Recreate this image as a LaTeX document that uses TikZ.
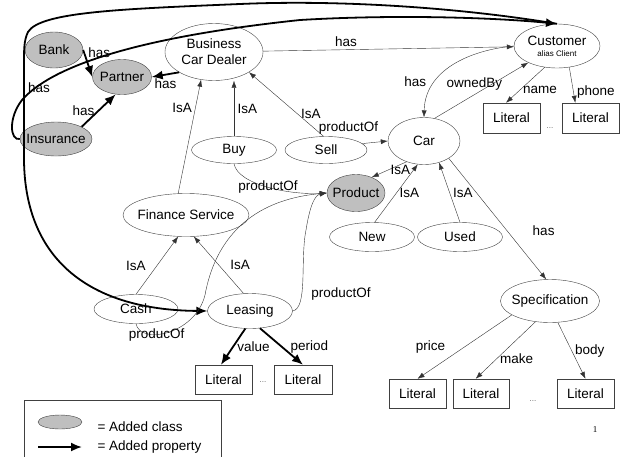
\documentclass[tikz,border=0pt]{standalone}
\usepackage{fontspec}
\setmainfont{Liberation Sans}
\newfontfamily\pagefont{Liberation Serif}
\usepackage{tikz}
\usetikzlibrary{positioning, arrows.meta, shapes.geometric}

\begin{document}
\begin{tikzpicture}[x=1pt, y=-1pt,
    every node/.style={font=\fontsize{13.5}{15}\selectfont},
    cls/.style={ellipse, draw=black!75, inner xsep=-6pt, inner ysep=-4pt},
    added/.style={cls, fill=black!25},
    lit/.style={rectangle, draw=black!75, minimum height=29pt, inner sep=0pt},
    link/.style={draw=black!80, -{Latex[length=7pt, width=5pt]}},
    addlink/.style={draw=black, line width=1.8pt, -{Latex[length=11pt, width=9pt]}},
    dots/.style={font=\fontsize{8}{9}\selectfont, text=black!60}]
    \useasboundingbox (0,0) rectangle (626,456);

    % Dealer, partners and customer
    \node[added, minimum width=58pt, minimum height=36pt] (bank) at (54,50) {Bank};
    \node[added, minimum width=59pt, minimum height=35pt] (partner) at (122,77) {Partner};
    \node[added, minimum width=72pt, minimum height=34pt] (insurance) at (56,139) {Insurance};
    \node[cls, minimum width=98pt, minimum height=57pt, align=center] (dealer) at (214,52) {Business\\[1pt]Car Dealer};
    \node[cls, minimum width=86pt, minimum height=44pt, align=center] (customer) at (557,46)
        {Customer\\[-4pt]{\fontsize{8}{9}\selectfont alias Client}};

    % Activities and products
    \node[cls, minimum width=85pt, minimum height=27pt] (buy) at (234,150) {Buy};
    \node[cls, minimum width=82pt, minimum height=27pt] (sell) at (326,150) {Sell};
    \node[cls, minimum width=72pt, minimum height=47pt] (car) at (424,141) {Car};
    \node[added, minimum width=58pt, minimum height=37pt] (product) at (356,193) {Product};
    \node[cls, minimum width=85pt, minimum height=29pt] (new) at (372,237) {New};
    \node[cls, minimum width=85pt, minimum height=29pt] (used) at (460,237) {Used};
    \node[cls, minimum width=99pt, minimum height=43pt] (spec) at (550,301) {Specification};
    \node[cls, minimum width=126pt, minimum height=43pt] (finance) at (186,215) {Finance Service};
    \node[cls, minimum width=84pt, minimum height=29pt] (cash) at (136,309) {Cash};
    \node[cls, minimum width=85pt, minimum height=35pt] (leasing) at (250,311) {Leasing};

    % Literals
    \node[lit, minimum width=57pt, minimum height=30pt] (lit-name) at (511.5,118) {Literal};
    \node[lit, minimum width=57pt, minimum height=30pt] (lit-phone) at (590.5,118) {Literal};
    \node[lit, minimum width=57pt] (lit-value) at (223.5,379.5) {Literal};
    \node[lit, minimum width=58pt] (lit-period) at (303,379.5) {Literal};
    \node[lit, minimum width=57pt] (lit-price) at (417.5,393.5) {Literal};
    \node[lit, minimum width=56pt] (lit-make) at (481,393.5) {Literal};
    \node[lit, minimum width=57pt] (lit-body) at (585.5,393.5) {Literal};
    \node[dots] (dots-a) at (550,128) {...};
    \node[dots] (dots-b) at (263,382) {...};
    \node[dots] (dots-c) at (533,401) {...};

    % Added properties (thick)
    \draw[addlink] (customer.north) .. controls (450,6) and (330,0) .. (240,4)
        .. controls (120,9) and (40,12) .. (28,32) .. controls (24,40) and (24,50) .. (24,60)
        -- (24,160) node[pos=0.28, right] {has}
        .. controls (25,260) and (90,310) .. (leasing.west);
    \draw[addlink] (insurance.west) .. controls (10,141) and (8,118) .. (22,100)
        .. controls (50,68) and (130,38) .. (300,20) .. controls (400,14) and (500,18) .. (customer.north);
    \draw[addlink] (bank.east) -- (partner.west) node[pos=0.1, right] {has};
    \draw[addlink] (insurance.north east) -- (partner.250) node[midway, left] {has};
    \draw[addlink] (dealer.south west) -- (partner.east) node[midway, below] {has};
    \draw[addlink] (leasing.255) -- (lit-value.100) node[midway, right] {value};
    \draw[addlink] (leasing.-60) -- (lit-period.north) node[midway, right=5pt] {period};

    % Existing properties
    \draw[link] (dealer) -- (customer) node[pos=0.33, above] {has};
    \draw[link] (finance.110) -- (dealer.245) node[pos=0.75, left] {IsA};
    \draw[link] (buy.north) -- (buy.north |- dealer.south) node[midway, right] {IsA};
    \draw[link] (sell.100) -- (dealer.-30) node[pos=0.35, right] {IsA};
    \draw[link] (cash.north) -- (finance.250) node[midway, left=8pt] {IsA};
    \draw[link] (leasing.110) -- (finance.290) node[midway, right=8pt] {IsA};
    \draw[link] (buy.south) .. controls (238,185) and (290,195) .. (product.west) node[pos=0.5] {productOf};
    \draw[link] (cash.south) .. controls (140,345) and (195,335) .. (205,295) node[pos=0.37] {producOf}
        .. controls (215,240) and (250,200) .. (product.west);
    \draw[link] (leasing.east) .. controls (308,308) and (300,260) .. (306,230) node[pos=0.35, right=6pt] {productOf}
        .. controls (310,205) and (315,195) .. (product.west);
    \draw[link] (sell.10) -- (car.west) node[pos=0.9, above left=5pt] {productOf};
    \draw[link] (car.230) -- (product.45) node[midway, right=-2pt] {IsA};
    \draw[link] (new.80) -- (car.255) node[midway, right] {IsA};
    \draw[link] (used.north) -- (car.-55) node[midway, right] {IsA};
    \draw[link] (car.-35) -- (spec.100) node[pos=0.6, right=22pt] {has};
    \draw[link] (customer.west) .. controls (470,50) and (425,70) .. (car.north) node[pos=0.7, left=6pt] {has};
    \draw[link] (car.65) -- (customer.210) node[midway, xshift=-7pt, yshift=6pt] {ownedBy};
    \draw[link] (customer.240) -- (lit-name.110) node[pos=0.65, right] {name};
    \draw[link] (customer.300) -- (lit-phone.135) node[pos=0.7, right] {phone};
    \draw[link] (spec.200) -- (lit-price.north) node[midway, left=16pt] {price};
    \draw[link] (spec.235) -- (lit-make.110) node[pos=0.65, right] {make};
    \draw[link] (spec.-70) -- (lit-body.north) node[midway, right] {body};

    % Legend
    \draw[draw=black!75] (24,400) rectangle (221,470);
    \node[added, minimum width=44pt, minimum height=14pt] (key-cls) at (60,422) {};
    \node[anchor=west] (key-cls-txt) at (94,427) {= Added class};
    \coordinate (key-a) at (38,447);
    \coordinate (key-b) at (82,447);
    \draw[addlink] (key-a) -- (key-b);
    \node[anchor=west] (key-prop-txt) at (94,447) {= Added property};

    \node[font=\pagefont\fontsize{9}{10}\selectfont] (page) at (595,430) {1};
\end{tikzpicture}
\end{document}
